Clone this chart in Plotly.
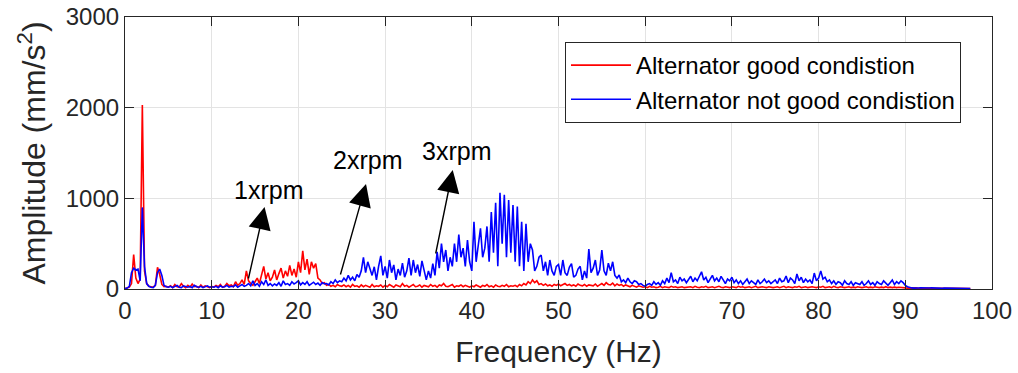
import numpy as np
import plotly.graph_objects as go

# frequency grid (Hz), 0.25 Hz resolution up to 97.5 Hz
freq = [round(i * 0.25, 2) for i in range(0, 391)]

good = [
    5, 10, 20, 60, 380, 120, 60, 110, 2030, 200, 60, 30, 25, 20, 40, 240, 160, 50, 25, 30,
    20, 35, 15, 50, 25, 20, 60, 30, 15, 40, 20, 55, 25, 30, 15, 45, 20, 35, 25, 15,
    30, 20, 40, 25, 50, 20, 30, 60, 35, 45, 25, 80, 40, 60, 100, 50, 200, 90, 60, 40,
    80, 120, 60, 150, 250, 110, 180, 90, 130, 210, 100, 170, 230, 120, 200, 140, 260, 150, 220, 130,
    300, 180, 420, 210, 330, 160, 300, 230, 280, 120, 100, 60, 70, 40, 50, 30, 40, 25, 50, 35,
    30, 45, 25, 40, 20, 50, 30, 35, 20, 45, 25, 40, 30, 20, 50, 25, 35, 30, 45, 20,
    40, 25, 50, 30, 20, 45, 35, 25, 60, 30, 40, 20, 35, 50, 25, 30, 45, 20, 40, 30,
    25, 50, 30, 40, 20, 45, 35, 60, 30, 25, 40, 50, 20, 35, 30, 45, 25, 40, 30, 20,
    35, 25, 45, 30, 20, 40, 30, 50, 25, 35, 20, 45, 30, 25, 40, 30, 50, 25, 35, 30,
    40, 25, 50, 35, 60, 45, 80, 60, 100, 70, 90, 50, 60, 40, 55, 35, 45, 30, 50, 40,
    55, 35, 45, 60, 40, 50, 35, 45, 30, 55, 40, 35, 50, 30, 45, 40, 35, 55, 30, 45,
    60, 40, 70, 50, 45, 65, 35, 55, 40, 50, 30, 45, 35, 25, 40, 30, 20, 35, 25, 20,
    25, 15, 30, 20, 25, 15, 20, 30, 15, 25, 20, 15, 30, 20, 25, 15, 20, 25, 15, 20,
    20, 25, 15, 30, 20, 15, 25, 20, 30, 15, 20, 25, 15, 20, 30, 20, 15, 25, 20, 15,
    25, 20, 15, 30, 20, 25, 15, 20, 25, 15, 20, 30, 15, 20, 25, 20, 15, 25, 20, 15,
    20, 25, 15, 20, 30, 15, 25, 20, 15, 25, 20, 30, 15, 20, 25, 15, 20, 25, 20, 15,
    25, 20, 30, 15, 20, 25, 15, 30, 20, 15, 25, 20, 15, 20, 25, 15, 20, 15, 25, 20,
    15, 20, 25, 15, 20, 15, 25, 20, 15, 20, 15, 25, 15, 20, 15, 20, 15, 20, 15, 10,
    12, 10, 12, 8, 10, 12, 8, 10, 9, 11, 8, 10, 9, 8, 10, 8, 9, 7, 8, 9,
    8, 7, 9, 8, 7, 8, 6, 7, 8, 6, 5,
]

not_good = [
    5, 10, 30, 180, 230, 210, 220, 90, 900, 250, 60, 30, 20, 15, 40, 180, 220, 150, 40, 25,
    20, 30, 15, 25, 40, 20, 15, 35, 25, 20, 30, 15, 40, 25, 20, 30, 15, 25, 35, 20,
    25, 20, 30, 15, 35, 20, 25, 40, 20, 30, 25, 45, 20, 35, 50, 30, 40, 60, 35, 90,
    40, 60, 30, 80, 50, 100, 40, 60, 35, 55, 40, 70, 30, 90, 50, 60, 40, 80, 55, 70,
    90, 45, 70, 50, 80, 40, 60, 75, 50, 65, 40, 70, 55, 60, 45, 80, 60, 100, 70, 90,
    80, 120, 90, 150, 100, 130, 90, 160, 130, 200, 350, 180, 300, 210, 150, 245, 100, 250, 365, 150,
    250, 120, 320, 180, 265, 100, 220, 150, 285, 130, 200, 340, 150, 320, 180, 270, 140, 310, 200, 100,
    200, 120, 280, 150, 410, 230, 500, 300, 430, 200, 350, 250, 500, 300, 600, 350, 450, 250, 540, 300,
    200, 740, 300, 500, 670, 350, 450, 690, 300, 850, 400, 950, 250, 1060, 500, 1040, 350, 980, 400, 925,
    300, 910, 250, 740, 200, 720, 300, 500, 430, 200, 250, 350, 375, 200, 300, 150, 320, 200, 150, 250,
    270, 150, 320, 180, 150, 240, 280, 130, 150, 220, 250, 100, 200, 120, 440, 180, 230, 320, 150, 210,
    430, 200, 150, 285, 200, 300, 150, 120, 155, 80, 100, 70, 120, 80, 60, 90, 80, 50, 60, 40,
    30, 50, 60, 40, 80, 50, 70, 40, 90, 60, 120, 70, 180, 80, 100, 60, 130, 90, 110, 70,
    100, 140, 80, 120, 90, 150, 190, 100, 130, 70, 110, 150, 90, 120, 80, 140, 100, 60, 110, 90,
    130, 70, 100, 60, 90, 50, 80, 110, 60, 90, 70, 50, 100, 60, 80, 110, 70, 90, 60, 80,
    100, 60, 120, 80, 90, 143, 70, 120, 100, 60, 165, 90, 130, 70, 110, 80, 100, 60, 176, 90,
    120, 200, 110, 130, 80, 100, 60, 90, 50, 80, 70, 40, 90, 60, 50, 80, 40, 70, 60, 50,
    80, 40, 60, 90, 50, 70, 40, 80, 60, 50, 90, 60, 40, 70, 100, 50, 80, 60, 90, 70,
    40, 25, 15, 12, 10, 14, 11, 12, 10, 13, 9, 11, 12, 10, 9, 11, 10, 8, 10, 9,
    8, 9, 7, 8, 6, 7, 6, 5, 6, 5, 4,
]

x_ticks = [0, 10, 20, 30, 40, 50, 60, 70, 80, 90, 100]
y_ticks = [0, 1000, 2000, 3000]

# annotation labels and arrows (data coordinates)
labels = ["1xrpm", "2xrpm", "3xrpm"]
label_pos = [(16.5, 1090), (28.0, 1420), (38.2, 1520)]
arrow_head = [(16.1, 904), (27.8, 1158), (37.8, 1312)]
arrow_tail = [(14.2, 99), (24.8, 143), (35.8, 375)]

FONT = "Liberation Sans, Arial, sans-serif"
TXT = "#262626"

fig = go.Figure()
fig.add_trace(go.Scatter(x=freq, y=good, mode="lines", name="Alternator good condistion",
                         line=dict(color="#ff0000", width=1.6)))
fig.add_trace(go.Scatter(x=freq, y=not_good, mode="lines", name="Alternator not good condistion",
                         line=dict(color="#0000ff", width=1.6)))

for t, (tx, ty), (hx, hy), (sx, sy) in zip(labels, label_pos, arrow_head, arrow_tail):
    fig.add_annotation(x=hx, y=hy, ax=sx, ay=sy, xref="x", yref="y", axref="x", ayref="y",
                       text="", showarrow=True, arrowhead=2, arrowsize=3.2, arrowwidth=1.4,
                       arrowcolor="black")
    fig.add_annotation(x=tx, y=ty, xref="x", yref="y", text=t, showarrow=False,
                       font=dict(family=FONT, size=25, color="black"))

axis_common = dict(showline=True, linecolor=TXT, linewidth=1.2, mirror="ticks",
                   ticks="inside", ticklen=9, tickcolor=TXT, tickwidth=1.2,
                   showgrid=True, gridcolor="#e3e3e3", gridwidth=1, zeroline=False,
                   automargin=False, ticklabeloverflow="allow",
                   tickfont=dict(family=FONT, size=24, color=TXT))

fig.update_layout(
    width=1018, height=373,
    margin=dict(l=125, r=26, t=17, b=84),
    paper_bgcolor="white", plot_bgcolor="white",
    xaxis=dict(range=[0, 100], tickvals=x_ticks,
               title=dict(text="Frequency (Hz)", font=dict(family=FONT, size=30, color=TXT), standoff=18),
               **axis_common),
    yaxis=dict(range=[0, 3000], tickvals=y_ticks,
               title=dict(text="Amplitude (mm/s<sup>2</sup>)", font=dict(family=FONT, size=32, color=TXT), standoff=10),
               **axis_common),
    legend=dict(x=0.5075, y=0.908, xanchor="left", yanchor="top",
                bgcolor="white", bordercolor=TXT, borderwidth=1,
                font=dict(family=FONT, size=24, color="black"),
                tracegroupgap=0, itemwidth=60),
    showlegend=True,
)

# remove the default page margin so the figure sits at the window's top-left corner
fig.write_html("out.html", config={"displayModeBar": False},
               post_script="document.body.style.margin='0';")
